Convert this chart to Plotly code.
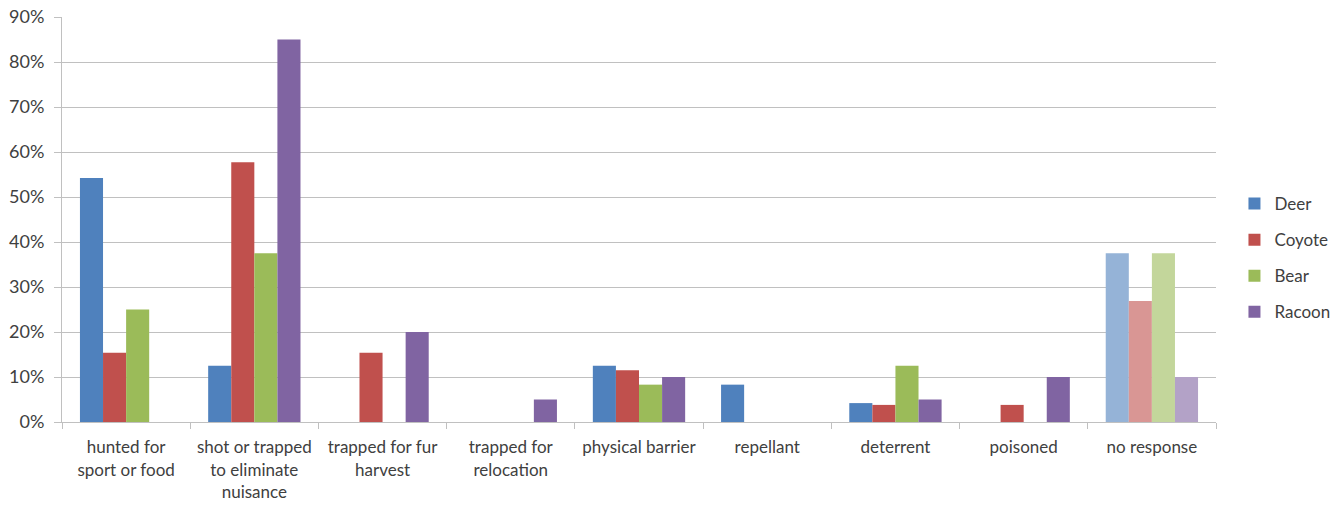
import plotly.graph_objects as go

categories = [
    "hunted for<br>sport or food",
    "shot or trapped<br>to eliminate<br>nuisance",
    "trapped for fur<br>harvest",
    "trapped for<br>relocation",
    "physical barrier",
    "repellant",
    "deterrent",
    "poisoned",
    "no response",
]

deer = [0.542, 0.125, 0, 0, 0.125, 0.083, 0.042, 0, 0.375]
coyote = [0.154, 0.577, 0.154, 0, 0.115, 0, 0.038, 0.038, 0.269]
bear = [0.25, 0.375, 0, 0, 0.083, 0, 0.125, 0, 0.375]
racoon = [0, 0.85, 0.20, 0.05, 0.10, 0, 0.05, 0.10, 0.10]

series = [
    ("Deer", deer, "#4F81BD", "#95B3D7"),
    ("Coyote", coyote, "#C0504D", "#D99694"),
    ("Bear", bear, "#9BBB59", "#C3D69B"),
    ("Racoon", racoon, "#8064A2", "#B3A2C7"),
]

font_family = "Lato, 'Open Sans', sans-serif"
text_color = "#404040"
grid_color = "#C0C0C0"

fig = go.Figure()
for name, values, base, light in series:
    # the final category is drawn in a lighter tint of the series colour
    colors = [base] * (len(categories) - 1) + [light]
    fig.add_trace(go.Bar(
        name=name,
        x=categories,
        y=values,
        marker=dict(color=colors, line=dict(width=0)),
        legendgroup=name,
    ))

fig.update_layout(
    width=1338,
    height=505,
    margin=dict(l=62, r=122, t=17, b=83, autoexpand=False),
    paper_bgcolor="white",
    plot_bgcolor="white",
    barmode="group",
    bargap=0.28,
    bargroupgap=0,
    font=dict(family=font_family, size=17, color=text_color),
    showlegend=True,
    legend=dict(
        x=1.016, xanchor="left",
        y=0.405, yanchor="middle",
        font=dict(size=17, color=text_color),
        tracegroupgap=11,
        itemwidth=30,
        bgcolor="rgba(0,0,0,0)",
    ),
    xaxis=dict(
        type="category",
        showgrid=False,
        showline=True,
        linecolor=grid_color,
        linewidth=1,
        ticks="outside",
        tickson="boundaries",
        ticklen=6,
        tickcolor=grid_color,
        tickangle=0,
        tickfont=dict(size=17, color=text_color),
        ticklabelstandoff=10,
        range=[-0.5, 8.5],
    ),
    yaxis=dict(
        range=[0, 0.9],
        dtick=0.1,
        tickformat=".0%",
        showgrid=True,
        gridcolor=grid_color,
        gridwidth=1,
        showline=True,
        linecolor=grid_color,
        ticks="outside",
        ticklen=7,
        tickcolor=grid_color,
        tickfont=dict(size=18, color=text_color),
        ticklabelstandoff=6,
        zeroline=False,
    ),
)

fig.write_html("out.html")
